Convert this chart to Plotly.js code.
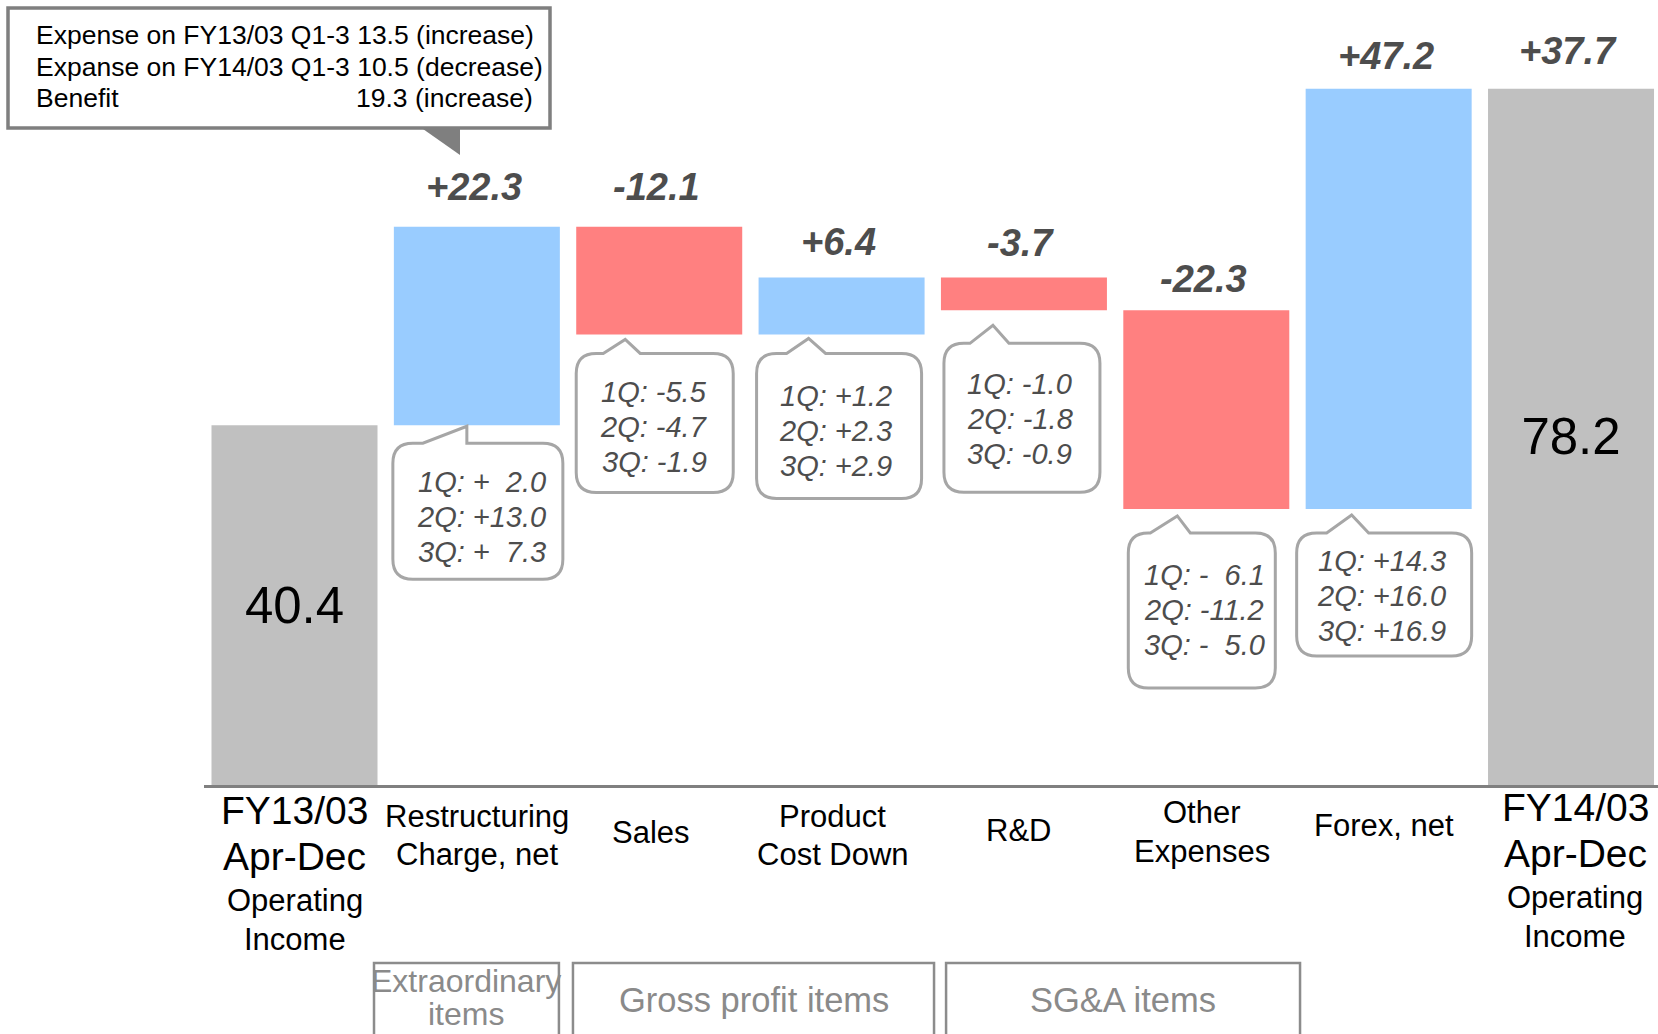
<!DOCTYPE html>
<html>
<head>
<meta charset="utf-8">
<script src="https://cdn.plot.ly/plotly-3.0.1.min.js"></script>
<style>html,body{margin:0;padding:0;background:#fff;}#chart{width:1658px;height:1034px;}</style>
</head>
<body>
<div id="chart"></div>
<script>
// ---------------- DATA ----------------
const categories = ['FY13/03 Apr-Dec Operating Income', 'Restructuring Charge, net', 'Sales', 'Product Cost Down', 'R&D', 'Other Expenses', 'Forex, net', 'FY14/03 Apr-Dec Operating Income'];
const measures = ['absolute', 'relative', 'relative', 'relative', 'relative', 'relative', 'relative', 'total'];
const values = [40.4, 22.3, -12.1, 6.4, -3.7, -22.3, 47.2, 78.2];
const changeLabels = ['', '+22.3', '-12.1', '+6.4', '-3.7', '-22.3', '+47.2', '+37.7'];
const totalLabels = ['40.4', '', '', '', '', '', '', '78.2'];
const labelLines = [['FY13/03', 'Apr-Dec', 'Operating', 'Income'], ['Restructuring', 'Charge, net'], ['Sales'], ['Product', 'Cost Down'], ['R&D'], ['Other', 'Expenses'], ['Forex, net'], ['FY14/03', 'Apr-Dec', 'Operating', 'Income']];
const quarterCats = [1, 2, 3, 4, 5, 6];
const q1 = ['+  2.0', '-5.5', '+1.2', '-1.0', '-  6.1', '+14.3'];
const q2 = ['+13.0', '-4.7', '+2.3', '-1.8', '-11.2', '+16.0'];
const q3 = ['+  7.3', '-1.9', '+2.9', '-0.9', '-  5.0', '+16.9'];
const noteLeft = ['Expense on FY13/03 Q1-3 13.5 (increase)', 'Expanse on FY14/03 Q1-3 10.5 (decrease)', 'Benefit'];
const noteRight = ['', '', '19.3 (increase)'];
const groupNames = [['Extraordinary', 'items'], ['Gross profit items'], ['SG&A items']];
const groupCats = [[1, 1], [2, 3], [4, 5]];

// ---------------- LAYOUT / STYLE ----------------
const FONT = 'Liberation Sans, Arial, Helvetica, sans-serif';
const W = 1658, H = 1034;
const M = {l: 204, r: 0, t: 0, b: 249};
const PW = W - M.l - M.r, PH = H - M.t - M.b;
const pxPerX = 182.36, pxPerY = 8.905;
const xmin = -(294.5 - M.l) / pxPerX, xmax = xmin + PW / pxPerX;
const ymin = 0, ymax = PH / pxPerY;
const xToPx = x => M.l + (x - xmin) * pxPerX;
const yToPx = y => M.t + PH - (y - ymin) * pxPerY;
const pxToX = p => xmin + (p - M.l) / pxPerX;
const pxToY = p => ymin + (M.t + PH - p) / pxPerY;
const pxToPaperX = p => (p - M.l) / PW;
const pxToPaperY = p => (M.t + PH - p) / PH;
const nb = s => s.replace(/ /g, '\u00a0');

// running extents of each bar
const lows = [], highs = [];
let run = 0;
measures.forEach((m, i) => {
  let s, e;
  if (m === 'absolute') { s = 0; e = values[i]; }
  else if (m === 'relative') { s = run; e = run + values[i]; }
  else { s = 0; e = run; }
  run = e;
  lows.push(Math.min(s, e)); highs.push(Math.max(s, e));
});

const annotations = [];
const shapes = [];

// change labels above bars
const labelLift = [0, 40, 40, 35, 34, 31, 33, 38];
changeLabels.forEach((t, i) => {
  if (!t) return;
  annotations.push({
    x: i, y: highs[i], xref: 'x', yref: 'y', xshift: -3, yshift: labelLift[i],
    text: '<b><i>' + t + '</i></b>', showarrow: false, xanchor: 'center', yanchor: 'middle',
    font: {family: FONT, size: 38, color: '#4d4d4d'}
  });
});

// category labels below axis (pixel centres of each line, small x nudges)
const labelY = [[810, 856, 900, 939], [816, 854], [832], [816, 854], [830], [812, 851], [825], [807, 853, 897, 936]];
const labelDx = [0, 0, -8, -9, -5, -4, -5, 4];
labelLines.forEach((lines, i) => {
  lines.forEach((ln, k) => {
    const big = /^(FY|Apr)/.test(ln);
    annotations.push({
      x: i, xref: 'x', xshift: labelDx[i], y: pxToPaperY(labelY[i][k]), yref: 'paper',
      text: ln, showarrow: false, xanchor: 'center', yanchor: 'middle',
      font: {family: FONT, size: big ? 39 : 31, color: '#000'}
    });
  });
});

// quarterly callouts: [boxL, boxR, boxT, boxB, apexDx, apexDy, baseL, baseR, textDx, textDy] px rel. to bar centre / lower edge
const calloutGeom = [
  [-84, 86, 18, 154, -10, 1, -54, -10, 5, 57],
  [-83, 74, 19, 158, -34, 5, -56, -19, -5, 58],
  [-85, 80, 19, 164, -33, 4, -55, -16, -6, 62],
  [-80, 76, 33, 182, -31, 15, -54, -15, -4, 74],
  [-78, 69, 24, 179, -29, 7, -56, -16, -2, 66],
  [-92, 83, 24, 147, -37, 6, -62, -20, -7, 52]
];
quarterCats.forEach((c, j) => {
  const g = calloutGeom[j];
  const cpx = xToPx(c), lpy = yToPx(lows[c]);
  const L = cpx + g[0], R = cpx + g[1], T = lpy + g[2], B = lpy + g[3];
  const ax = cpx + g[4], ay = lpy + g[5], bl = cpx + g[6], br = cpx + g[7];
  const r = 20;
  const P = (px, py) => pxToX(px).toFixed(5) + ',' + pxToY(py).toFixed(5);
  const path = `M${P(L + r, T)} L${P(bl, T)} L${P(ax, ay)} L${P(br, T)} L${P(R - r, T)} Q${P(R, T)} ${P(R, T + r)} L${P(R, B - r)} Q${P(R, B)} ${P(R - r, B)} L${P(L + r, B)} Q${P(L, B)} ${P(L, B - r)} L${P(L, T + r)} Q${P(L, T)} ${P(L + r, T)} Z`;
  shapes.push({type: 'path', xref: 'x', yref: 'y', path: path, fillcolor: '#ffffff', line: {color: '#a6a6a6', width: 3}, layer: 'above'});
  [q1[j], q2[j], q3[j]].forEach((v, k) => {
    annotations.push({
      x: pxToX(cpx + g[8]), y: pxToY(lpy + g[9] + k * 35), xref: 'x', yref: 'y',
      text: '<i>' + nb((k + 1) + 'Q: ' + v) + '</i>', showarrow: false, xanchor: 'center', yanchor: 'middle',
      font: {family: FONT, size: 29, color: '#4d4d4d'}
    });
  });
});

// note box (top left)
shapes.push({type: 'rect', xref: 'paper', yref: 'paper', x0: pxToPaperX(8), x1: pxToPaperX(550), y0: pxToPaperY(8), y1: pxToPaperY(128), fillcolor: '#ffffff', line: {color: '#7f7f7f', width: 3.5}, layer: 'above'});
const tp = (px, py) => pxToPaperX(px).toFixed(5) + ',' + pxToPaperY(py).toFixed(5);
shapes.push({type: 'path', xref: 'paper', yref: 'paper', path: `M${tp(423, 129)} L${tp(460, 129)} L${tp(460, 155)} Z`, fillcolor: '#7f7f7f', line: {width: 0}, layer: 'above'});
const noteY = [35, 67, 98];
noteLeft.forEach((t, k) => {
  annotations.push({x: pxToPaperX(34), y: pxToPaperY(noteY[k]), xref: 'paper', yref: 'paper', text: t, showarrow: false, xanchor: 'left', yanchor: 'middle', font: {family: FONT, size: 26.5, color: '#000'}});
  if (noteRight[k]) annotations.push({x: pxToPaperX(535), y: pxToPaperY(noteY[k]), xref: 'paper', yref: 'paper', text: noteRight[k], showarrow: false, xanchor: 'right', yanchor: 'middle', font: {family: FONT, size: 26.5, color: '#000'}});
});

// group boxes at the bottom
const groupPad = [[0.564, 0.450], [0.473, 0.507], [0.427, 0.514]];
const groupTextY = [[981, 1014], [1000], [1000]];
const groupSize = [32, 34.5, 34.5];
groupNames.forEach((lines, gi) => {
  const x0 = groupCats[gi][0] - groupPad[gi][0], x1 = groupCats[gi][1] + groupPad[gi][1];
  shapes.push({type: 'rect', xref: 'paper', yref: 'paper', x0: pxToPaperX(xToPx(x0)), x1: pxToPaperX(xToPx(x1)), y0: pxToPaperY(963), y1: pxToPaperY(1060), line: {color: '#8c8c8c', width: 2.5}, fillcolor: 'rgba(0,0,0,0)'});
  lines.forEach((ln, k) => {
    annotations.push({x: (x0 + x1) / 2, xref: 'x', y: pxToPaperY(groupTextY[gi][k]), yref: 'paper', text: ln, showarrow: false, xanchor: 'center', yanchor: 'middle', font: {family: FONT, size: groupSize[gi], color: '#8a8a8a'}});
  });
});

const trace = {
  type: 'waterfall',
  x: categories.map((c, i) => i),
  y: values,
  measure: measures,
  base: 0,
  width: 166 / pxPerX,
  increasing: {marker: {color: '#99CCFF', line: {width: 0}}},
  decreasing: {marker: {color: '#FF8080', line: {width: 0}}},
  totals: {marker: {color: '#C0C0C0', line: {width: 0}}},
  connector: {visible: false},
  text: totalLabels,
  textinfo: 'text',
  textposition: 'inside',
  insidetextanchor: 'middle',
  textangle: 0,
  constraintext: 'none',
  insidetextfont: {family: FONT, size: 51, color: '#000000'},
  hoverinfo: 'none',
  showlegend: false
};

const layout = {
  width: W, height: H,
  margin: {l: M.l, r: M.r, t: M.t, b: M.b, pad: 0},
  paper_bgcolor: '#ffffff', plot_bgcolor: '#ffffff',
  showlegend: false,
  font: {family: FONT},
  xaxis: {range: [xmin, xmax], showgrid: false, zeroline: false, showticklabels: false, ticks: '', showline: true, linecolor: '#808080', linewidth: 3, fixedrange: true},
  yaxis: {range: [ymin, ymax], visible: false, showgrid: false, zeroline: false, fixedrange: true},
  annotations: annotations,
  shapes: shapes
};

Plotly.newPlot('chart', [trace], layout, {displayModeBar: false, staticPlot: true});
</script>
</body>
</html>
